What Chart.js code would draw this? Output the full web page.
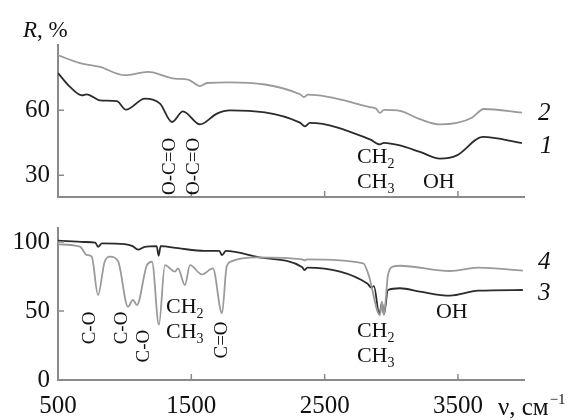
<!DOCTYPE html>
<html>
<head>
<meta charset="utf-8">
<script src="https://cdn.jsdelivr.net/npm/chart.js@4.4.1/dist/chart.umd.min.js"></script>
<style>
  html, body { margin: 0; padding: 0; background: #fff; }
  #wrap { position: relative; width: 582px; height: 420px; }
  .box { position: absolute; left: 0; width: 582px; height: 210px; }
</style>
</head>
<body>
<div id="wrap">
  <div class="box" style="top:0"><canvas id="top"></canvas></div>
  <div class="box" style="top:210px"><canvas id="bottom"></canvas></div>
</div>
<script>
// волновые числа (см-1) и отражение R, % для кривых 1-4
var nu1 = [500, 590, 680, 715, 815, 942, 1010, 1152, 1265, 1355, 1437, 1565, 1692, 1790, 2315, 2352, 2390, 2840, 2915, 2945, 3065, 3215, 3365, 3492, 3687, 3980];
var r1  = [77.2, 70.8, 66.9, 67.4, 64.6, 64.2, 60.3, 65.4, 63.1, 54.6, 59.5, 53.5, 58.5, 60.0, 54.3, 52.6, 54.2, 46.6, 44.3, 45.0, 43.8, 40.8, 37.7, 39.2, 47.7, 44.9];

var nu2 = [500, 665, 815, 1002, 1175, 1377, 1475, 1565, 1617, 1790, 2315, 2345, 2375, 2840, 2885, 2915, 2945, 3065, 3215, 3365, 3492, 3605, 3695, 3980];
var r2  = [85.4, 81.8, 80.0, 76.2, 77.7, 74.6, 74.2, 71.2, 72.6, 72.9, 67.4, 66.1, 67.2, 61.5, 60.8, 58.8, 60.2, 59.7, 55.9, 53.5, 54.2, 56.6, 60.6, 58.9];

var nu3 = [500, 700, 780, 800, 830, 1000, 1060, 1100, 1150, 1240, 1255, 1270, 1400, 1600, 1710, 1730, 1760, 2000, 2330, 2350, 2370, 2820, 2850, 2870, 2910, 2930, 2945, 2975, 3065, 3215, 3440, 3650, 3987];
var r3  = [101, 100, 99.5, 96.5, 99, 98.5, 97, 94.5, 96.5, 97, 90, 97, 95.5, 93.5, 93.5, 90.5, 93.5, 89, 81.9, 79.7, 81.5, 70, 67, 68, 47.6, 55.8, 47.6, 65.2, 66.5, 64, 61.1, 64.7, 65.2];

var nu4 = [500, 665, 715, 753, 800, 850, 890, 950, 1025, 1062, 1092, 1167, 1205, 1257, 1302, 1377, 1400, 1452, 1490, 1580, 1662, 1730, 1765, 1800, 1990, 2330, 2350, 2370, 2790, 2830, 2915, 2930, 2945, 2975, 3012, 3065, 3440, 3650, 3987];
var r4  = [98.3, 96.6, 90.6, 89.4, 61.6, 85.7, 89.4, 86.2, 53.1, 58.0, 54.3, 83.3, 85.7, 39.9, 83.3, 78.5, 80.9, 68.8, 83.3, 76.5, 80.9, 48.3, 82.0, 86.0, 88.9, 87.4, 86.7, 87.4, 84.5, 76.1, 47.1, 56.8, 47.1, 76.1, 82.1, 82.8, 79.0, 81.4, 79.2];

var xTicks = [500, 1500, 2500, 3500];
var yTicksTop = [30, 60];
var yTicksBottom = [0, 50, 100];

var SERIF = '"Liberation Serif", "Times New Roman", serif';
var DARK = '#2b2b2b';
var GRAY = '#9a9a9a';
var AXIS = '#8a8a8a';

function pts(xs, ys) {
    return xs.map(function(x, i) { return { x: x, y: ys[i] }; });
}

function line(xs, ys, color) {
    return {
        data: pts(xs, ys),
        borderColor: color,
        borderWidth: 1.8,
        pointRadius: 0,
        cubicInterpolationMode: 'monotone',
        fill: false
    };
}

// подписи: t - текст, sub - индекс, x/y - в единицах осей
function drawLabel(ctx, chart, a) {
    var px = chart.scales.x.getPixelForValue(a.x);
    var py = chart.scales.y.getPixelForValue(a.y);
    ctx.save();
    ctx.fillStyle = '#111';
    if (a.rot) {
        ctx.translate(px, py);
        ctx.rotate(-Math.PI / 2);
        ctx.font = '19px ' + SERIF;
        ctx.textAlign = 'center';
        ctx.textBaseline = 'middle';
        ctx.fillText(a.t, 0, 0);
    } else {
        ctx.font = (a.italic ? 'italic ' : '') + (a.size || 22) + 'px ' + SERIF;
        ctx.textAlign = 'left';
        ctx.textBaseline = 'alphabetic';
        ctx.fillText(a.t, px, py);
        var w = ctx.measureText(a.t).width;
        if (a.sub) {
            ctx.font = '14px ' + SERIF;
            ctx.fillText(a.sub, px + w, py + 5);
        }
        if (a.sup) {
            ctx.font = '15px ' + SERIF;
            ctx.fillText(a.sup, px + w + 1, py - 11);
        }
    }
    ctx.restore();
}

var labelsTop = [
    { t: 'O-C=O', x: 1340, y: 34.1, rot: true },
    { t: 'O-C=O', x: 1520, y: 34.1, rot: true },
    { t: 'CH', sub: '2', x: 2742, y: 35.7 },
    { t: 'CH', sub: '3', x: 2742, y: 24.2 },
    { t: 'OH', x: 3237, y: 24.2 },
    { t: '2', x: 4100, y: 55.5, italic: true, size: 25 },
    { t: '1', x: 4115, y: 40.3, italic: true, size: 25 }
];

var labelsBottom = [
    { t: 'C-O', x: 740, y: 37.7, rot: true },
    { t: 'C-O', x: 978, y: 37.7, rot: true },
    { t: 'C-O', x: 1145, y: 24.6, rot: true },
    { t: 'CH', sub: '2', x: 1310, y: 48.6 },
    { t: 'CH', sub: '3', x: 1310, y: 30.4 },
    { t: 'C=O', x: 1730, y: 29, rot: true },
    { t: 'CH', sub: '2', x: 2742, y: 31.2 },
    { t: 'CH', sub: '3', x: 2742, y: 13 },
    { t: 'OH', x: 3335, y: 44.9 },
    { t: '4', x: 4100, y: 80.4, italic: true, size: 25 },
    { t: '3', x: 4100, y: 58, italic: true, size: 25 },
    { t: '\u03BD, \u0441\u043C', sup: '\u22121', x: 3800, y: -25.4, size: 25 }
];

// короткие штрихи внутрь поля графика
var innerTicks = {
    id: 'innerTicks',
    afterDraw: function(chart, args, opts) {
        var ctx = chart.ctx, ca = chart.chartArea;
        ctx.save();
        ctx.strokeStyle = AXIS;
        ctx.lineWidth = 1.5;
        ctx.beginPath();
        xTicks.forEach(function(v) {
            var x = chart.scales.x.getPixelForValue(v);
            ctx.moveTo(x, ca.bottom);
            ctx.lineTo(x, ca.bottom - 6);
        });
        opts.yTicks.forEach(function(v) {
            var y = chart.scales.y.getPixelForValue(v);
            ctx.moveTo(ca.left, y);
            ctx.lineTo(ca.left + 6, y);
        });
        ctx.stroke();
        ctx.restore();
        opts.labels.forEach(function(a) { drawLabel(ctx, chart, a); });
        if (opts.title) {
            // R, %
            var px = chart.scales.x.getPixelForValue(237);
            var py = chart.scales.y.getPixelForValue(93.8);
            ctx.save();
            ctx.fillStyle = '#111';
            ctx.font = 'italic 23px ' + SERIF;
            ctx.fillText('R', px, py);
            var w = ctx.measureText('R').width;
            ctx.font = '23px ' + SERIF;
            ctx.fillText(', %', px + w, py);
            ctx.restore();
        }
    }
};

function makeChart(id, sets, yMin, yMax, yTicks, padTop, padBottom, xHeight, showX, labels, title) {
    var el = document.getElementById(id);
    if (!el) {
        console.error('Element #' + id + ' not found');
        return null;
    }
    return new Chart(el.getContext('2d'), {
        type: 'line',
        data: { datasets: sets },
        options: {
            responsive: true,
            maintainAspectRatio: false,
            animation: false,
            layout: { padding: { top: padTop, right: 57.4, bottom: padBottom, left: 0 } },
            plugins: {
                legend: { display: false },
                tooltip: { enabled: false },
                innerTicks: { yTicks: yTicks, labels: labels, title: title }
            },
            scales: {
                x: {
                    type: 'linear',
                    min: 500,
                    max: 4000,
                    grid: { display: false, drawTicks: false },
                    border: { display: true, color: AXIS, width: 2 },
                    afterBuildTicks: function(s) { s.ticks = xTicks.map(function(v) { return { value: v }; }); },
                    afterFit: function(s) {
                        s.height = xHeight;
                        s.paddingLeft = 0;
                        s.paddingRight = 0;
                    },
                    ticks: {
                        display: showX,
                        padding: 11,
                        maxRotation: 0,
                        color: '#111',
                        font: { family: SERIF, size: 25 },
                        callback: function(v) { return String(v); }
                    }
                },
                y: {
                    min: yMin,
                    max: yMax,
                    grid: { display: false, drawTicks: false },
                    border: { display: true, color: AXIS, width: 2 },
                    afterBuildTicks: function(s) { s.ticks = yTicks.map(function(v) { return { value: v }; }); },
                    afterFit: function(s) {
                        s.width = 58;
                        s.paddingTop = 0;
                        s.paddingBottom = 0;
                    },
                    ticks: {
                        padding: 8,
                        color: '#111',
                        font: { family: SERIF, size: 25 },
                        callback: function(v) { return String(v); }
                    }
                }
            }
        },
        plugins: [innerTicks]
    });
}

document.addEventListener('DOMContentLoaded', function() {
    if (typeof Chart === 'undefined') {
        console.error('Chart.js is not loaded');
        return;
    }
    makeChart('top', [line(nu2, r2, GRAY), line(nu1, r1, DARK)],
        20, 90, yTicksTop, 45.3, 13, 0, false, labelsTop, true);
    makeChart('bottom', [line(nu4, r4, GRAY), line(nu3, r3, DARK)],
        0, 110, yTicksBottom, 18.2, 0, 40, true, labelsBottom, false);
});
</script>
</body>
</html>
